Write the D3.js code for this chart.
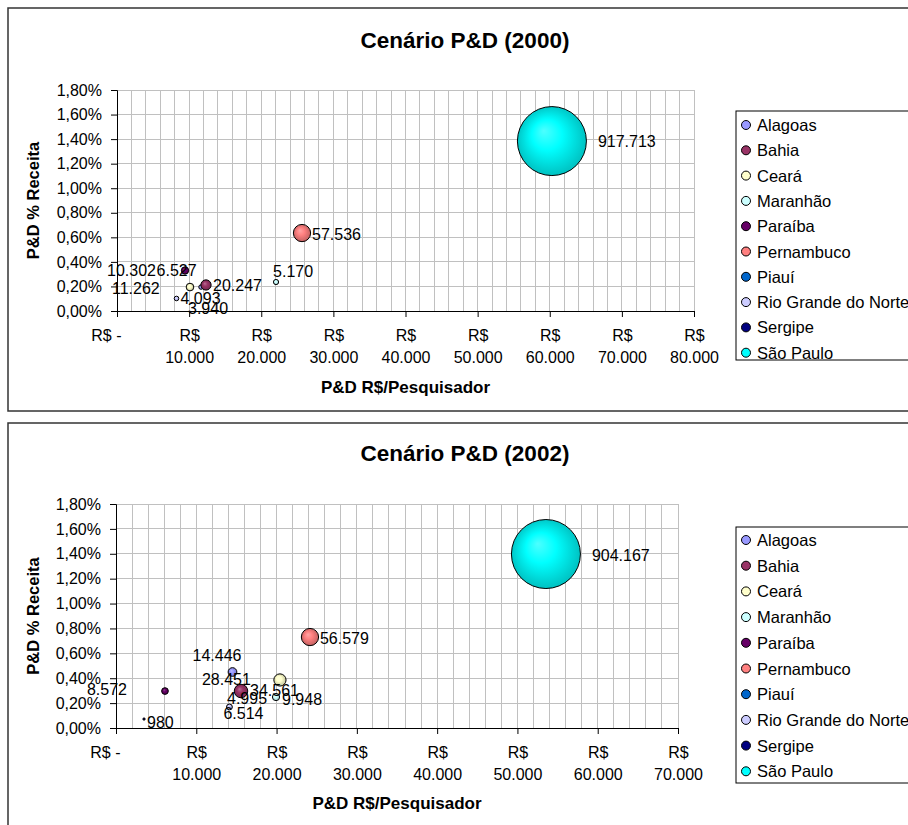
<!DOCTYPE html>
<html><head><meta charset="utf-8">
<script src="https://cdn.jsdelivr.net/npm/d3@7"></script>
<style>body{margin:0;background:#fff}svg{display:block;font-family:"Liberation Sans",Arial,sans-serif}</style>
</head><body><svg id="c" width="908" height="825"></svg>
<script>
// ---------- data ----------
const states = ["Alagoas","Bahia","Ceará","Maranhão","Paraíba","Pernambuco","Piauí","Rio Grande do Norte","Sergipe","São Paulo"];
const colors = ["#9999FF","#993366","#FFFFCC","#CCFFFF","#660066","#FF8080","#0066CC","#CCCCFF","#000080","#00FFFF"];

// 2000: x = P&D R$/Pesquisador, y = P&D % Receita, size = bubble value
const x2000 = [11650, 12340, 10120, 22050, 9430, 25650, null, 8250, 9440, 60300];
const y2000 = [0.00195, 0.00212, 0.00195, 0.00236, 0.00330, 0.00635, null, 0.00102, 0.00329, 0.01384];
const s2000 = [3940, 20247, 11262, 5170, 10302, 57536, null, 4093, 6527, 917713];

// 2002
const x2002 = [14510, 15570, 20420, 19930, 6100, 24160, 15570, 14130, 3490, 53550];
const y2002 = [0.00450, 0.00297, 0.00386, 0.00249, 0.00297, 0.00731, 0.00289, 0.00169, 0.00072, 0.01398];
const s2002 = [14446, 34561, 28451, 9948, 8572, 56579, 4995, 6514, 980, 904167];

const yTickValues = [0, 0.002, 0.004, 0.006, 0.008, 0.010, 0.012, 0.014, 0.016, 0.018];
const xTickStep = 10000, xGridStep = 2000;

// label placement (pixels relative to bubble centre)
const lab2000 = [[-13,21],[7,1],[-78,1],[-3,-11],[-78,0],[10,1],null,[4,0],[-28.5,0],[46,0]];
const lab2002 = [[-40,-17],[9,-1],[-78,0],[6,2],[-78,-2],[10,1],[-14,6],[-6,7],[3,3],[46,1]];

// ---------- drawing ----------
const loc = d3.formatLocale({decimal:",", thousands:".", grouping:[3], currency:["R$ ",""]});
const fPct = loc.format(".2%");
const fNum = loc.format(",.0f");
const svg = d3.select("#c");
const FONT = 16;

const defs = svg.append("defs");
colors.forEach((c,i)=>{
  const g = defs.append("radialGradient").attr("id","g"+i)
    .attr("cx","50%").attr("cy","50%").attr("r","55%").attr("fx","38%").attr("fy","35%");
  g.append("stop").attr("offset","0%").attr("stop-color", d3.interpolateRgb(c,"#fff")(0.3));
  g.append("stop").attr("offset","40%").attr("stop-color", c);
  g.append("stop").attr("offset","100%").attr("stop-color", d3.rgb(c).darker(0.9));
});

function chart(cfg, xs, ys, ss, labs){
  const g = svg.append("g");
  g.append("rect").attr("x",cfg.frame[0]).attr("y",cfg.frame[1]).attr("width",cfg.frame[2]).attr("height",cfg.frame[3])
    .attr("fill","#fff").attr("stroke","#333").attr("stroke-width",1.5);
  g.append("text").attr("x",465).attr("y",cfg.titleY).attr("text-anchor","middle").attr("dominant-baseline","central")
    .attr("font-size",22.5).attr("font-weight","bold").text(cfg.title);

  const x = d3.scaleLinear().domain([0,cfg.xMax]).range([cfg.l,cfg.r]);
  const y = d3.scaleLinear().domain([0,0.018]).range([cfg.b,cfg.t]);
  const maxS = d3.max(ss.filter(v=>v!=null));
  const rs = d3.scaleSqrt().domain([0,maxS]).range([0,34.5]);

  // grid
  const gx = d3.range(xGridStep, cfg.xMax+1, xGridStep);
  g.append("g").selectAll("line").data(gx).join("line")
    .attr("x1",d=>x(d)).attr("x2",d=>x(d)).attr("y1",cfg.t).attr("y2",cfg.b)
    .attr("stroke","#c0c0c0").attr("stroke-width",1).attr("shape-rendering","crispEdges");
  g.append("g").selectAll("line").data(yTickValues.slice(1)).join("line")
    .attr("x1",cfg.l).attr("x2",cfg.r).attr("y1",d=>y(d)).attr("y2",d=>y(d))
    .attr("stroke","#c0c0c0").attr("stroke-width",1).attr("shape-rendering","crispEdges");

  // axes
  const ay = g.append("g").attr("transform",`translate(${cfg.l},0)`)
    .call(d3.axisLeft(y).tickValues(yTickValues).tickSize(6).tickFormat(fPct));
  ay.select(".domain").attr("stroke","#000");
  ay.selectAll(".tick line").attr("stroke","#000");
  ay.selectAll(".tick text").attr("font-size",FONT).attr("font-family",null).attr("fill","#000").attr("x",-15);

  const xt = d3.range(0, cfg.xMax+1, xTickStep);
  const ax = g.append("g").attr("transform",`translate(0,${cfg.b})`)
    .call(d3.axisBottom(x).tickValues(xt).tickSize(6).tickFormat(""));
  ax.select(".domain").attr("stroke","#000");
  ax.selectAll(".tick line").attr("stroke","#000");
  ax.selectAll(".tick").each(function(d){
    const t = d3.select(this).append("text").attr("font-size",FONT).attr("fill","#000");
    if (d===0){
      t.attr("x",4).attr("y",24).attr("text-anchor","end").attr("dominant-baseline","central").text("R$ -");
    } else {
      t.attr("text-anchor","middle");
      t.append("tspan").attr("x",0).attr("y",24).attr("dominant-baseline","central").text("R$");
      t.append("tspan").attr("x",0).attr("y",46).attr("dominant-baseline","central").text(fNum(d));
    }
  });

  // axis titles
  g.append("text").attr("x",(cfg.l+cfg.r)/2).attr("y",cfg.xTitleY).attr("text-anchor","middle")
    .attr("dominant-baseline","central").attr("font-size",17).attr("font-weight","bold").text("P&D R$/Pesquisador");
  g.append("text").attr("transform",`translate(33,${(cfg.t+cfg.b)/2}) rotate(-90)`).attr("text-anchor","middle")
    .attr("dominant-baseline","central").attr("font-size",16.5).attr("font-weight","bold").text("P&D % Receita");

  // bubbles
  const pts = states.map((s,i)=>({i, x:xs[i], y:ys[i], s:ss[i], lab:labs[i]})).filter(d=>d.s!=null);
  const order = pts.slice().sort((a,b)=>a.s-b.s);
  g.append("g").selectAll("circle").data(order).join("circle")
    .attr("cx",d=>x(d.x)).attr("cy",d=>y(d.y)).attr("r",d=>rs(d.s))
    .attr("fill",d=>`url(#g${d.i})`).attr("stroke","#000").attr("stroke-width",1);
  g.append("g").selectAll("text").data(pts).join("text")
    .attr("x",d=>x(d.x)+d.lab[0]).attr("y",d=>y(d.y)+d.lab[1]).attr("dominant-baseline","central")
    .attr("font-size",FONT).attr("fill","#000").text(d=>fNum(d.s));

  // legend
  const L = cfg.legend;
  g.append("rect").attr("x",L.x).attr("y",L.y).attr("width",220).attr("height",L.h)
    .attr("fill","#fff").attr("stroke","#000").attr("stroke-width",1);
  const li = g.append("g").selectAll("g").data(states).join("g")
    .attr("transform",(d,i)=>`translate(${L.x+10},${L.first+i*L.step})`);
  li.append("circle").attr("r",4.5).attr("fill",(d,i)=>colors[i]).attr("stroke","#000").attr("stroke-width",1);
  li.append("text").attr("x",11).attr("dominant-baseline","central").attr("font-size",16.5).text(d=>d);
}

chart({frame:[8,8,960,403], title:"Cenário P&D (2000)", titleY:40, l:117, r:694, t:90, b:311, xMax:80000,
       xTitleY:387, legend:{x:736,y:111,h:249,first:125,step:25.3}}, x2000, y2000, s2000, lab2000);
chart({frame:[8,423,960,420], title:"Cenário P&D (2002)", titleY:453, l:116, r:678, t:504, b:728, xMax:70000,
       xTitleY:803, legend:{x:736,y:527,h:256,first:540,step:25.7}}, x2002, y2002, s2002, lab2002);
</script>
</body></html>
